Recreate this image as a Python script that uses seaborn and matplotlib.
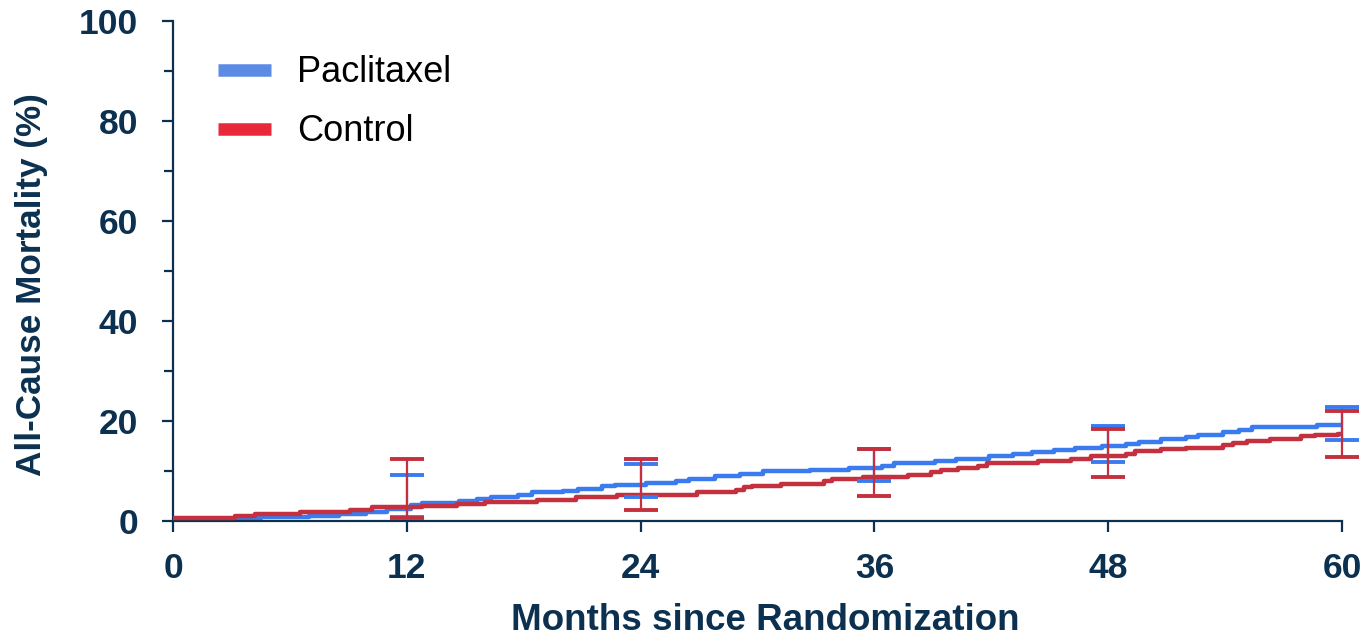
import matplotlib
matplotlib.use("Agg")
import matplotlib.pyplot as plt
import seaborn as sns
import pandas as pd
import numpy as np
from matplotlib.ticker import MultipleLocator
from matplotlib.lines import Line2D

# ---- data ----
pac_months = [0, 3.3, 4.5, 7.0, 8.5, 9.9, 11.0, 12.2, 12.8, 14.7, 15.6, 16.3, 17.7, 18.4,
              20.0, 20.8, 22.0, 22.7, 24.3, 25.8, 26.5, 27.8, 29.1, 30.3, 32.7, 34.7,
              36.4, 37.0, 39.1, 40.2, 41.9, 43.1, 44.1, 45.2, 46.3, 47.7, 48.9, 49.6,
              50.7, 52.0, 52.6, 53.9, 54.7, 55.4, 58.7, 60.0]
pac_values = [0.3, 0.5, 0.7, 0.9, 1.3, 1.8, 2.3, 3.2, 3.6, 4.0, 4.3, 4.7, 5.2, 5.7,
              6.0, 6.4, 6.9, 7.2, 7.6, 8.0, 8.4, 8.9, 9.3, 9.9, 10.2, 10.5,
              11.0, 11.5, 12.0, 12.4, 12.9, 13.3, 13.7, 14.2, 14.7, 15.0, 15.4, 15.9,
              16.4, 16.9, 17.3, 17.9, 18.3, 18.9, 19.3, 19.3]

ctl_months = [0, 3.2, 4.2, 6.5, 9.1, 10.2, 12.8, 14.6, 16.0, 18.7, 20.7, 22.8, 26.9,
              28.9, 29.3, 29.7, 31.2, 33.4, 33.8, 35.4, 37.7, 38.9, 39.4, 40.3, 41.3,
              41.8, 44.4, 46.1, 47.1, 48.9, 49.4, 50.7, 52.0, 53.9, 54.4, 55.1, 56.3,
              57.9, 58.6, 59.8, 60.0]
ctl_values = [0.5, 0.9, 1.3, 1.7, 2.2, 2.7, 3.0, 3.3, 3.7, 4.2, 4.7, 5.2, 5.7,
              6.2, 6.7, 7.0, 7.4, 7.9, 8.4, 8.7, 9.2, 9.7, 10.1, 10.5, 11.0,
              11.5, 12.0, 12.4, 12.9, 13.3, 13.9, 14.3, 14.7, 15.2, 15.7, 16.1, 16.5,
              17.0, 17.3, 17.5, 17.5]

ci_months = [12, 24, 36, 48, 60]
pac_ci_low = [0.8, 4.8, 8.0, 11.8, 16.2]
pac_ci_high = [9.2, 11.4, 14.3, 19.0, 22.8]
ctl_ci_low = [0.6, 2.2, 5.0, 8.8, 12.8]
ctl_ci_high = [12.4, 12.4, 14.4, 18.4, 22.0]

x_ticks = [0, 12, 24, 36, 48, 60]
y_ticks = [0, 20, 40, 60, 80, 100]
legend_labels = ["Paclitaxel", "Control"]

# ---- style ----
sns.set_style("white")
plt.rcParams['font.family'] = ['Liberation Sans', 'DejaVu Sans']

navy = "#0c3150"
blue_line = "#3a7cf0"
red_line = "#c4303d"
blue_leg = "#5b8be5"
red_leg = "#e8293a"

fig = plt.figure(figsize=(13.68, 6.38), dpi=100)
ax = fig.add_axes([0.1265, 0.1834, 0.981 - 0.1265, 0.967 - 0.1834])

df = pd.concat([
    pd.DataFrame({"month": pac_months, "pct": pac_values, "arm": "Paclitaxel"}),
    pd.DataFrame({"month": ctl_months, "pct": ctl_values, "arm": "Control"}),
])

sns.lineplot(data=df[df.arm == "Paclitaxel"], x="month", y="pct", color=blue_line,
             lw=3.2, drawstyle="steps-post", ax=ax, estimator=None,
             solid_capstyle="butt", zorder=2)
sns.lineplot(data=df[df.arm == "Control"], x="month", y="pct", color=red_line,
             lw=3.2, drawstyle="steps-post", ax=ax, estimator=None,
             solid_capstyle="butt", zorder=3)

cm = np.array(ci_months, dtype=float)
for lo, hi, col, z in [(pac_ci_low, pac_ci_high, blue_line, 4), (ctl_ci_low, ctl_ci_high, red_line, 5)]:
    lo = np.array(lo); hi = np.array(hi)
    mid = (lo + hi) / 2
    eb = ax.errorbar(cm, mid, yerr=[mid - lo, hi - mid], fmt="none", ecolor=col,
                     elinewidth=1.6, capsize=12.3, capthick=2.8, zorder=z)
    for art in eb.lines[1]:
        art.set_clip_on(False)
    for art in eb.lines[2]:
        art.set_clip_on(False)

ax.set_xlim(0, 60)
ax.set_ylim(0, 100)
ax.set_xticks(x_ticks)
ax.set_yticks(y_ticks)
ax.yaxis.set_minor_locator(MultipleLocator(10))

for s in ["top", "right"]:
    ax.spines[s].set_visible(False)
for s in ["left", "bottom"]:
    ax.spines[s].set_color(navy)
    ax.spines[s].set_linewidth(1.6)

ax.tick_params(axis="both", which="both", bottom=True, left=True)
ax.tick_params(axis="both", which="major", direction="out", length=8, width=1.6,
               color=navy, labelcolor=navy, labelsize=25.5)
ax.tick_params(axis="y", which="minor", direction="out", length=6.5, width=1.6, color=navy)
ax.tick_params(axis="x", which="major", pad=14)
ax.tick_params(axis="y", which="major", pad=17)
for lab in ax.get_xticklabels() + ax.get_yticklabels():
    lab.set_fontweight("bold")

ax.set_xlabel("Months since Randomization", fontsize=26.5, fontweight="bold", color=navy)
ax.set_ylabel("All-Cause Mortality (%)", fontsize=25.3, fontweight="bold", color=navy)
ax.xaxis.set_label_coords(0.507, -0.165)
ax.yaxis.set_label_coords(-0.107, 0.472)

handles = [Line2D([0], [0], color=blue_leg, lw=9, solid_capstyle="butt"),
           Line2D([0], [0], color=red_leg, lw=9, solid_capstyle="butt")]
leg = ax.legend(handles, legend_labels, loc="upper left",
                bbox_to_anchor=(0.026, 0.96), frameon=False, fontsize=26,
                handlelength=1.47, handletextpad=0.72, labelspacing=0.66,
                borderaxespad=0.0)
for t in leg.get_texts():
    t.set_color("black")

fig.savefig("out.png", dpi=100)
